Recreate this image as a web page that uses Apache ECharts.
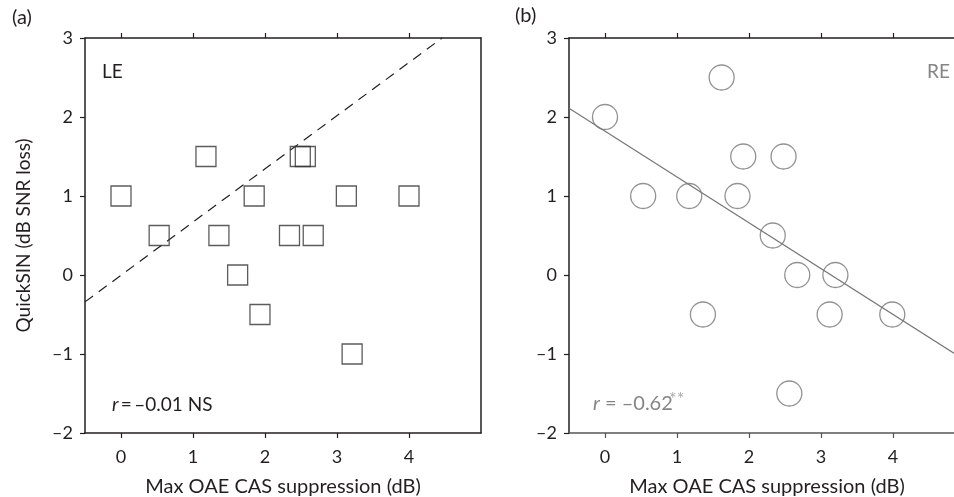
<!DOCTYPE html>
<html>
<head>
<meta charset="utf-8">
<script src="https://cdn.jsdelivr.net/npm/echarts@6/dist/echarts.min.js"></script>
<style>
html,body{margin:0;padding:0;background:#fff;overflow:hidden;}
#c{width:954px;height:497px;}
</style>
</head>
<body>
<div id="c"></div>
<script>
// ---- data ----
const xTicks = [0, 1, 2, 3, 4];
const yTicks = [-2, -1, 0, 1, 2, 3];
const xLE = [0, 0.53, 1.18, 1.36, 1.62, 1.85, 1.93, 2.34, 2.49, 2.56, 2.67, 3.13, 3.21, 4.0];
const yLE = [1, 0.5, 1.5, 0.5, 0, 1, -0.5, 0.5, 1.5, 1.5, 0.5, 1, -1, 1];
const xRE = [0, 0.53, 1.17, 1.36, 1.62, 1.84, 1.92, 2.33, 2.48, 2.56, 2.67, 3.12, 3.2, 3.99];
const yRE = [2, 1, 1, -0.5, 2.5, 1, 1.5, 0.5, 1.5, -1.5, 0, -0.5, 0, -0.5];
const fitLE = [[-0.5, -0.34], [4.46, 3]];
const fitRE = [[-0.5, 2.11], [5, -1.08]];
const xName = 'Max OAE CAS suppression (dB)';
const yName = 'QuickSIN (dB SNR loss)';

const FONT = 'Lato';
const DARK = '#231f20';
const GRAY = '#858585';
const fmt = v => String(v).replace('-', '\u2013');

const chart = echarts.init(document.getElementById('c'), null, {renderer: 'canvas'});

function xAxes(grid, lineColor, bottomColor) {
  return [
    {
      gridIndex: grid, type: 'value', position: 'bottom', min: -0.5, max: 5,
      name: xName, nameLocation: 'middle', nameGap: 44,
      nameTextStyle: {fontFamily: FONT, fontSize: 20, color: DARK},
      axisLine: {show: true, onZero: false, lineStyle: {color: bottomColor, width: 1.5}},
      axisTick: {show: true, inside: false, length: 5, customValues: xTicks, lineStyle: {color: bottomColor, width: 1.2}},
      axisLabel: {show: true, customValues: xTicks, margin: 15, fontFamily: FONT, fontSize: 18, color: DARK, formatter: fmt},
      splitLine: {show: false}
    },
    {
      gridIndex: grid, type: 'value', position: 'top', min: -0.5, max: 5,
      axisLine: {show: true, onZero: false, lineStyle: {color: lineColor, width: 1.5}},
      axisTick: {show: true, inside: false, length: 5, customValues: xTicks, lineStyle: {color: lineColor, width: 1.2}},
      axisLabel: {show: false},
      splitLine: {show: false}
    }
  ];
}
function yAxes(grid, showName) {
  return [
    {
      gridIndex: grid, type: 'value', position: 'left', min: -2, max: 3, interval: 1,
      name: showName ? yName : '', nameLocation: 'middle', nameGap: 52,
      nameTextStyle: {fontFamily: FONT, fontSize: 19, color: DARK},
      axisLine: {show: true, onZero: false, lineStyle: {color: DARK, width: 1.5}},
      axisTick: {show: true, inside: false, length: 5, lineStyle: {color: DARK, width: 1.2}},
      axisLabel: {show: true, margin: 12, fontFamily: FONT, fontSize: 18, color: DARK, formatter: fmt},
      splitLine: {show: false}
    },
    {
      gridIndex: grid, type: 'value', position: 'right', min: -2, max: 3, interval: 1,
      axisLine: {show: true, onZero: false, lineStyle: {color: DARK, width: 1.5}},
      axisTick: {show: false}, axisLabel: {show: false}, splitLine: {show: false}
    }
  ];
}

const option = {
  backgroundColor: '#fff',
  animation: false,
  grid: [
    {left: 85, top: 38, width: 396, height: 395, outerBoundsMode: 'none', containLabel: false},
    {left: 569, top: 38, width: 396, height: 395, outerBoundsMode: 'none', containLabel: false}
  ],
  xAxis: [...xAxes(0, DARK, DARK), ...xAxes(1, DARK, '#555')],
  yAxis: [...yAxes(0, true), ...yAxes(1, false)],
  series: [
    {
      type: 'line', xAxisIndex: 0, yAxisIndex: 0, data: fitLE, symbol: 'none', silent: true,
      lineStyle: {color: DARK, width: 1.2, type: [10, 7]}, z: 1
    },
    {
      type: 'scatter', xAxisIndex: 0, yAxisIndex: 0,
      data: xLE.map((x, i) => [x, yLE[i]]),
      symbol: 'rect', symbolSize: 20,
      itemStyle: {color: 'rgba(255,255,255,0)', borderColor: '#333', borderWidth: 1.3}, z: 2
    },
    {
      type: 'line', xAxisIndex: 2, yAxisIndex: 2, data: fitRE, symbol: 'none', silent: true,
      lineStyle: {color: '#777', width: 1.2}, z: 1
    },
    {
      type: 'scatter', xAxisIndex: 2, yAxisIndex: 2,
      data: xRE.map((x, i) => [x, yRE[i]]),
      symbol: 'circle', symbolSize: 25,
      itemStyle: {color: 'rgba(255,255,255,0)', borderColor: '#777', borderWidth: 1.3}, z: 2
    }
  ],
  graphic: [
    {type: 'text', left: 12, top: 8, style: {text: '(a)', fontFamily: FONT, fontSize: 20, fill: DARK}},
    {type: 'text', left: 515, top: 6, style: {text: '(b)', fontFamily: FONT, fontSize: 20, fill: DARK}},
    {type: 'text', left: 102, top: 62, style: {text: 'LE', fontFamily: FONT, fontSize: 19, fill: DARK}},
    {type: 'text', right: 4, top: 62, style: {text: 'RE', fontFamily: FONT, fontSize: 19, fill: GRAY}},
    {type: 'text', left: 112, top: 395, style: {
      text: '{i|r}{n|\u2009=\u2009\u20130.01 NS}', fontFamily: FONT, fontSize: 19, fill: DARK,
      rich: {i: {fontStyle: 'italic', fontFamily: FONT, fontSize: 19, fill: DARK}, n: {fontFamily: FONT, fontSize: 19, fill: DARK}}
    }},
    {type: 'text', left: 593, top: 394, style: {
      text: '{i|r}{n| = \u20130.62}', fontFamily: FONT, fontSize: 20, fill: GRAY,
      rich: {i: {fontStyle: 'italic', fontFamily: FONT, fontSize: 20, fill: GRAY}, n: {fontFamily: FONT, fontSize: 20, fill: GRAY}}
    }},
    {type: 'text', left: 669, top: 390, style: {text: '**', fontFamily: FONT, fontSize: 18, fill: '#aaa'}}
  ]
};
chart.setOption(option);
</script>
</body>
</html>
